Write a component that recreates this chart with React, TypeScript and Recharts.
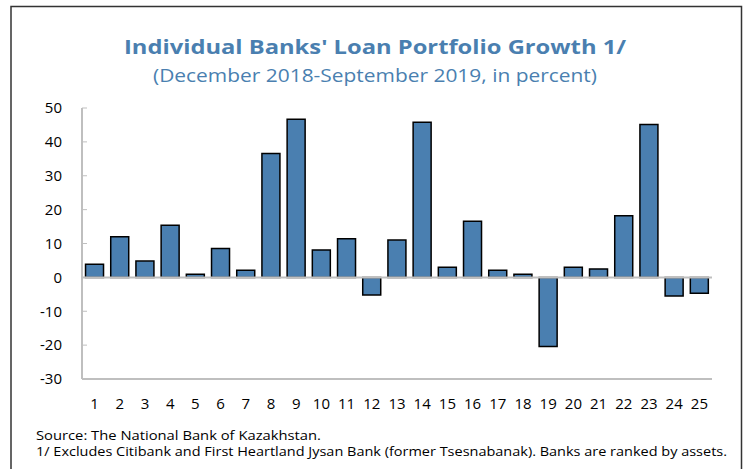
import React from "react";
import {
  BarChart,
  Bar,
  XAxis,
  YAxis,
  ReferenceLine,
} from "recharts";

// bank rank (by assets)
const banks: string[] = [
  "1", "2", "3", "4", "5", "6", "7", "8", "9", "10", "11", "12", "13",
  "14", "15", "16", "17", "18", "19", "20", "21", "22", "23", "24", "25",
];

// loan portfolio growth, Dec 2018 - Sep 2019, percent
const growth: number[] = [
  3.9, 12.0, 4.8, 15.4, 0.9, 8.5, 2.1, 36.6, 46.7, 8.1, 11.4, -5.2, 11.0,
  45.8, 3.0, 16.6, 2.1, 0.9, -20.4, 3.0, 2.5, 18.2, 45.1, -5.5, -4.7,
];

const yTicks: number[] = [-30, -20, -10, 0, 10, 20, 30, 40, 50];

const title = "Individual Banks' Loan Portfolio Growth 1/";
const subtitle = "(December 2018-September  2019, in percent)";
const source = "Source: The National Bank of Kazakhstan.";
const note =
  "1/ Excludes Citibank and First Heartland Jysan Bank (former Tsesnabanak). Banks are ranked by assets.";

const BLUE = "#4a7fb0";
const GREY = "#bfbfbf";
const FONT = "'Open Sans', 'Noto Sans', sans-serif";

const data = banks.map((name, i) => ({ name, value: growth[i] }));

const App: React.FC = () => {
  return (
    <div
      style={{
        position: "absolute",
        left: 0,
        top: 0,
        width: 744,
        height: 469,
        background: "#fff",
        fontFamily: FONT,
      }}
    >
      {/* frame, title and notes */}
      <svg
        width={744}
        height={469}
        style={{ position: "absolute", left: 0, top: 0 }}
      >
        <path
          d="M11 480 L11 6.5 L741.5 6.5 L741.5 480"
          fill="none"
          stroke="#333"
          strokeWidth={1.5}
        />
        <text
          x={375}
          y={54}
          textAnchor="middle"
          fontFamily={FONT}
          fontWeight="bold"
          fontSize={20}
          fill={BLUE}
          textLength={502}
          lengthAdjust="spacingAndGlyphs"
        >
          {title}
        </text>
        <text
          x={375}
          y={82}
          textAnchor="middle"
          fontFamily={FONT}
          fontSize={19}
          fill={BLUE}
          textLength={444}
          lengthAdjust="spacingAndGlyphs"
        >
          {subtitle}
        </text>
        <text
          x={36}
          y={440}
          fontFamily={FONT}
          fontSize={12}
          fill="#000"
          textLength={285}
          lengthAdjust="spacingAndGlyphs"
        >
          {source}
        </text>
        <text
          x={36}
          y={456}
          fontFamily={FONT}
          fontSize={12}
          fill="#000"
          textLength={691}
          lengthAdjust="spacingAndGlyphs"
        >
          {note}
        </text>
      </svg>

      <div style={{ position: "absolute", left: 0, top: 0 }}>
        <BarChart
          width={744}
          height={469}
          data={data}
          margin={{ top: 108, right: 32, left: 22, bottom: 60 }}
          barCategoryGap="14%"
        >
          <XAxis
            dataKey="name"
            axisLine={{ stroke: GREY, strokeWidth: 2 }}
            tickLine={false}
            tickSize={0}
            tickMargin={19}
            height={30}
            interval={0}
            tick={{ fill: "#000", fontSize: 15, fontFamily: FONT }}
          />
          <XAxis
            xAxisId="top"
            dataKey="name"
            orientation="top"
            height={0}
            tick={false}
            tickLine={false}
            axisLine={{ stroke: GREY, strokeWidth: 2 }}
          />
          <YAxis
            domain={[-30, 50]}
            ticks={yTicks}
            width={60}
            axisLine={{ stroke: GREY, strokeWidth: 2 }}
            tickLine={{ stroke: GREY }}
            tickSize={-5}
            tickMargin={25}
            tick={{ fill: "#000", fontSize: 15, fontFamily: FONT }}
          />
          <YAxis
            yAxisId="right"
            orientation="right"
            domain={[-30, 50]}
            width={0}
            tick={false}
            tickLine={false}
            axisLine={{ stroke: GREY, strokeWidth: 2 }}
          />
          <ReferenceLine y={0} stroke={GREY} strokeWidth={2} />
          <Bar
            dataKey="value"
            fill={BLUE}
            stroke="#000"
            strokeWidth={1.5}
            isAnimationActive={false}
          />
        </BarChart>
      </div>
    </div>
  );
};

export default App;
